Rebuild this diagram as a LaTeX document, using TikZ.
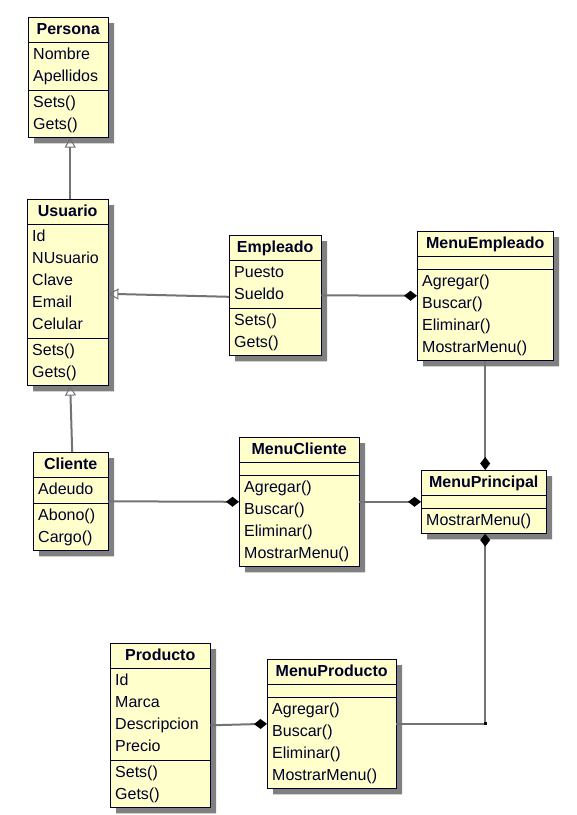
\documentclass[tikz,border=0pt]{standalone}
\usepackage{fontspec}
\setmainfont{Liberation Sans}
\usetikzlibrary{shapes.multipart,shadows,arrows.meta}
\definecolor{classfill}{RGB}{255,255,204}
\definecolor{classline}{RGB}{0,0,40}
\definecolor{shadowgray}{RGB}{128,128,128}
\definecolor{linkgray}{RGB}{115,115,115}
\tikzset{
  umlclass/.style={rectangle split, rectangle split parts=3, draw=classline,
    fill=classfill, anchor=north west, align=left, inner xsep=5pt,
    inner ysep=1.5pt, text=classline, font=\fontsize{16}{22}\selectfont,
    drop shadow={shadow xshift=6pt, shadow yshift=-6pt, fill=shadowgray, opacity=1}},
  inherit/.style={draw=linkgray, line width=2pt,
    -{Triangle[open, length=10pt, width=11pt, line width=1pt]}},
  owner/.style={draw=linkgray, line width=2pt,
    -{Diamond[length=13pt, width=10pt, color=black]}}
}
\newcommand{\classname}[1]{\makebox[\linewidth]{\bfseries\strut #1}}
\newcommand{\noattr}{\rule{0pt}{9pt}}
\begin{document}
\begin{tikzpicture}[x=1pt,y=-1pt]
      \useasboundingbox (0,0) rectangle (577,815);
      % classes
      \node[umlclass, text width=70pt] (persona) at (28,17)
        {\classname{Persona}
         \nodepart{two}\strut Nombre\\\strut Apellidos
         \nodepart{three}\strut Sets()\\\strut Gets()};
      \node[umlclass, text width=71pt] (usuario) at (27,199)
        {\classname{Usuario}
         \nodepart{two}\strut Id\\\strut NUsuario\\\strut Clave\\\strut Email\\\strut Celular
         \nodepart{three}\strut Sets()\\\strut Gets()};
      \node[umlclass, text width=82pt] (empleado) at (229,235)
        {\classname{Empleado}
         \nodepart{two}\strut Puesto\\\strut Sueldo
         \nodepart{three}\strut Sets()\\\strut Gets()};
      \node[umlclass, text width=126pt] (menuempleado) at (417,231)
        {\classname{MenuEmpleado}
         \nodepart{two}\noattr
         \nodepart{three}\strut Agregar()\\\strut Buscar()\\\strut Eliminar()\\\strut MostrarMenu()};
      \node[umlclass, text width=65pt] (cliente) at (33,452)
        {\classname{Cliente}
         \nodepart{two}\strut Adeudo
         \nodepart{three}\strut Abono()\\\strut Cargo()};
      \node[umlclass, text width=110pt] (menucliente) at (239,437)
        {\classname{MenuCliente}
         \nodepart{two}\noattr
         \nodepart{three}\strut Agregar()\\\strut Buscar()\\\strut Eliminar()\\\strut MostrarMenu()};
      \node[umlclass, text width=115pt] (menuprincipal) at (421,470)
        {\classname{MenuPrincipal}
         \nodepart{two}\noattr
         \nodepart{three}\strut MostrarMenu()};
      \node[umlclass, text width=90pt] (producto) at (110,643)
        {\classname{Producto}
         \nodepart{two}\strut Id\\\strut Marca\\\strut Descripcion\\\strut Precio
         \nodepart{three}\strut Sets()\\\strut Gets()};
      \node[umlclass, text width=119pt] (menuproducto) at (267,659)
        {\classname{MenuProducto}
         \nodepart{two}\noattr
         \nodepart{three}\strut Agregar()\\\strut Buscar()\\\strut Eliminar()\\\strut MostrarMenu()};
      % generalizations
      \draw[inherit] ([xshift=2.5pt]usuario.north) -- ([xshift=2pt]persona.south);
      \draw[inherit] ([yshift=-1.5pt]empleado.west) -- ([yshift=-1.5pt]usuario.east);
      \draw[inherit] ([xshift=1.5pt]cliente.north) -- ([xshift=2.5pt]usuario.south);
      % compositions
      \draw[owner] (empleado.east) -- (menuempleado.west);
      \draw[owner] (cliente.east) -- (menucliente.west);
      \draw[owner] (menucliente.east) -- (menuprincipal.west);
      \draw[owner] (menuempleado.south) -- (menuempleado.south |- menuprincipal.north);
      \coordinate (corner) at (menuempleado.south |- menuproducto.east);
      \draw[owner] (menuproducto.east) -- (corner) -- (corner |- menuprincipal.south);
      \fill (corner) +(-1.5,-1.5) rectangle +(1.5,1.5);
      \draw[owner] (producto.east) -- (menuproducto.west);
    \end{tikzpicture}
\end{document}
